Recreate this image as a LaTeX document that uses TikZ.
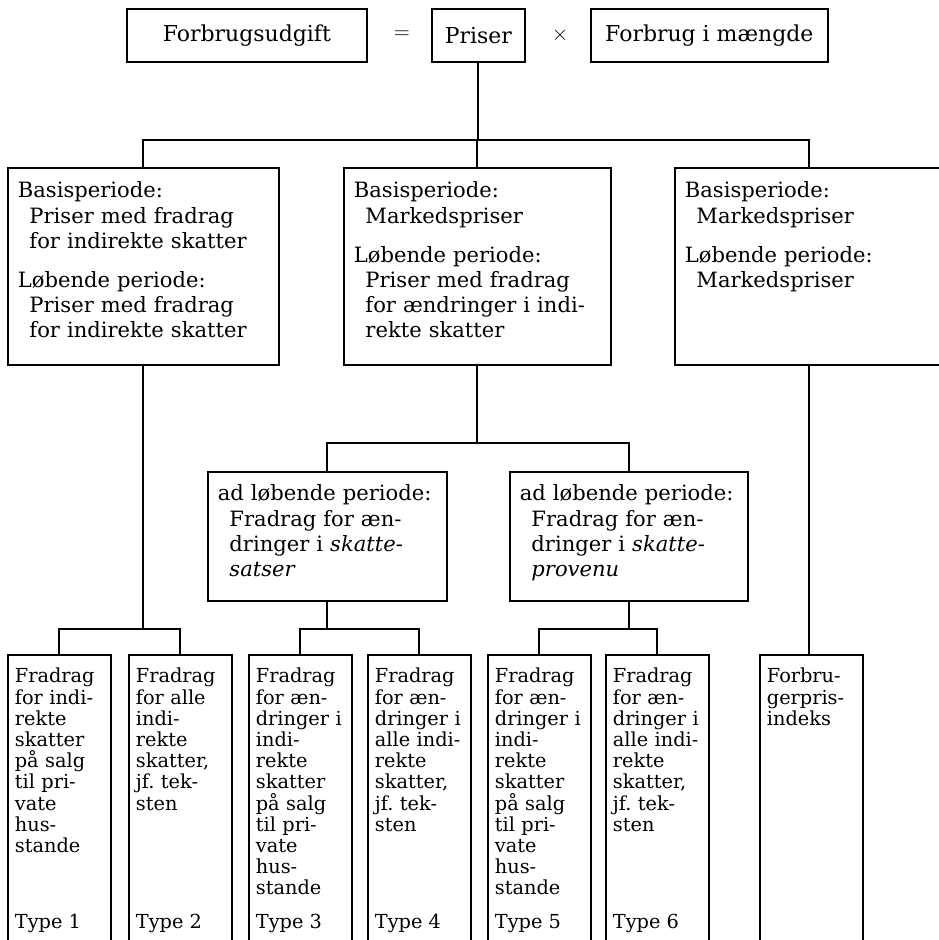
\documentclass[tikz,border=0pt]{standalone}
\usepackage{fontspec}
\setmainfont{DejaVu Serif}
\newcommand{\indnt}{\hspace*{0.55em}}

\begin{document}
\begin{tikzpicture}[x=0.02cm, y=-0.02cm, line width=1pt,
        top/.style = {draw, anchor=north west, minimum height=1.06cm, inner sep=0pt,
            font=\fontsize{12.5}{14}\selectfont},
        box/.style = {draw, anchor=north west, align=left, inner xsep=0.2cm, inner ysep=0pt,
            font=\fontsize{12}{14.3}\selectfont},
        col/.style = {draw, anchor=north west, align=left, inner xsep=0.14cm, inner ysep=0pt,
            text width=1.78cm, text height=0.56cm, text depth=6cm,
            font=\fontsize{11}{12.07}\selectfont},
        typ/.style = {anchor=base west, inner sep=0pt, font=\fontsize{11}{12.07}\selectfont}]

        \useasboundingbox (0,0) rectangle (939,940);
        \clip (0,0) rectangle (939,940);

        % Top row
        \node[top, minimum width=4.8cm] (fu) at (126,8) {Forbrugsudgift};
        \node[font=\fontsize{12.5}{14}\selectfont] (eq) at (402,35) {$=$};
        \node[top, minimum width=1.86cm] (pr) at (431,8) {Priser};
        \node[font=\fontsize{12.5}{14}\selectfont] (ti) at (560,35) {$\times$};
        \node[top, minimum width=4.74cm] (fm) at (590,8) {Forbrug i mængde};

        % Price concepts
        \node[box, text width=5.02cm, text height=0.6cm, text depth=3.34cm] (b1) at (7,167)
            {Basisperiode:\\
             \indnt Priser med fradrag\\
             \indnt for indirekte skatter\\[8pt]
             Løbende periode:\\
             \indnt Priser med fradrag\\
             \indnt for indirekte skatter};
        \node[box, text width=4.94cm, text height=0.6cm, text depth=3.34cm] (b2) at (343,167)
            {Basisperiode:\\
             \indnt Markedspriser\\[8pt]
             Løbende periode:\\
             \indnt Priser med fradrag\\
             \indnt for~ændringer~i~indi-\\
             \indnt rekte skatter};
        \node[box, text width=4.96cm, text height=0.6cm, text depth=3.34cm] (b3) at (674,167)
            {Basisperiode:\\
             \indnt Markedspriser\\[8pt]
             Løbende periode:\\
             \indnt Markedspriser};

        % Tax deductions in current period
        \node[box, text width=4.38cm, text height=0.58cm, text depth=2cm] (c1) at (207,471)
            {ad~løbende~periode:\\
             \indnt Fradrag for æn-\\
             \indnt dringer i \textit{skatte-}\\
             \indnt \textit{satser}};
        \node[box, text width=4.36cm, text height=0.58cm, text depth=2cm] (c2) at (509,471)
            {ad~løbende~periode:\\
             \indnt Fradrag for æn-\\
             \indnt dringer i \textit{skatte-}\\
             \indnt \textit{provenu}};

        % Columns at the bottom
        \node[col] (t1) at (7,654) {Fradrag\\for~indi-\\rekte\\skatter\\på~salg\\til~pri-\\vate\\hus-\\stande};
        \node[col] (t2) at (128,654) {Fradrag\\for~alle\\indi-\\rekte\\skatter,\\jf.~tek-\\sten};
        \node[col] (t3) at (248,654) {Fradrag\\for~æn-\\dringer~i\\indi-\\rekte\\skatter\\på~salg\\til~pri-\\vate\\hus-\\stande};
        \node[col] (t4) at (367,654) {Fradrag\\for~æn-\\dringer~i\\alle~indi-\\rekte\\skatter,\\jf.~tek-\\sten};
        \node[col] (t5) at (487,654) {Fradrag\\for~æn-\\dringer~i\\indi-\\rekte\\skatter\\på~salg\\til~pri-\\vate\\hus-\\stande};
        \node[col] (t6) at (605,654) {Fradrag\\for~æn-\\dringer~i\\alle~indi-\\rekte\\skatter,\\jf.~tek-\\sten};
        \node[col] (t7) at (759,654) {Forbru-\\gerpris-\\indeks};

        \foreach \i in {1,...,6}
            \node[typ] (ty\i) at ([shift={(7,274)}]t\i.north west) {Type \i};

        % Connectors
        \coordinate (s1) at (478,140);
        \draw (pr.south) -- (pr.south |- s1);
        \draw (b1.north) |- (s1) -| (b3.north);
        \draw (b2.north) -- (b2.north |- s1);

        \coordinate (s2) at (477,443);
        \draw (b2.south) -- (b2.south |- s2);
        \draw (c1.north) |- (s2) -| (c2.north);

        \coordinate (s3) at (143,629);
        \draw (b1.south) -- (b1.south |- s3);
        \draw (t1.north) |- (s3) -| (t2.north);

        \coordinate (s4) at (327,629);
        \draw (c1.south) -- (c1.south |- s4);
        \draw (t3.north) |- (s4) -| (t4.north);

        \coordinate (s5) at (628,629);
        \draw (c2.south) -- (c2.south |- s5);
        \draw (t5.north) |- (s5) -| (t6.north);

        \draw (b3.south) -- (b3.south |- t7.north);

    \end{tikzpicture}
\end{document}
